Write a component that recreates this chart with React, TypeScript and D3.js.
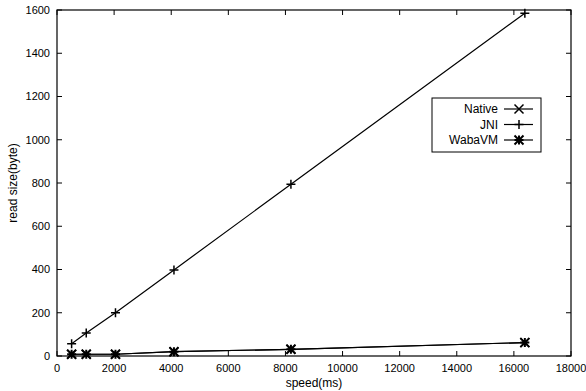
import * as d3 from 'd3'

const width = 586
const height = 391
const margin = { top: 10, right: 15, bottom: 35, left: 57 }
const innerWidth = width - margin.left - margin.right
const innerHeight = height - margin.top - margin.bottom

const sizes = [512, 1024, 2048, 4096, 8192, 16384]
// Native sits underneath the WabaVM marks in the picture
const nativeValues = [8, 8, 8, 20, 31, 62]
const jniValues = [57, 106, 200, 398, 794, 1585]
const wabaValues = [8, 8, 8, 20, 31, 62]
const seriesNames = ['Native', 'JNI', 'WabaVM']

const xTicks = d3.range(0, 18001, 2000)
const yTicks = d3.range(0, 1601, 200)

const font = 'Liberation Sans, Arial, Helvetica, sans-serif'

const Marker = ({ kind, x, y }: { kind: string; x: number; y: number }) => {
  const s = 4.5
  const plus = `M${x - s},${y}H${x + s}M${x},${y - s}V${y + s}`
  const cross = `M${x - s},${y - s}L${x + s},${y + s}M${x - s},${y + s}L${x + s},${y - s}`
  let d = plus
  if (kind === 'Native') d = cross
  if (kind === 'WabaVM') d = plus + cross
  const sw = kind === 'WabaVM' ? 2 : 1.5
  return <path d={d} stroke="#000" strokeWidth={sw} fill="none" />
}

const App = () => {
  const x = d3.scaleLinear().domain([0, 18000]).range([0, innerWidth])
  const y = d3.scaleLinear().domain([0, 1600]).range([innerHeight, 0])

  const series = [
    { name: 'Native', values: nativeValues },
    { name: 'JNI', values: jniValues },
    { name: 'WabaVM', values: wabaValues },
  ]

  const line = d3
    .line<number>()
    .x((_, i) => x(sizes[i]))
    .y((d) => y(d))

  const tick = 5
  const legendX = 432 - margin.left
  const legendY = 98 - margin.top

  return (
    <div>
      <svg width={width} height={height} style={{ display: 'block', position: 'absolute', left: 0, top: 0 }}>
        <rect width={width} height={height} fill="#fff" />
        <g transform={`translate(${margin.left},${margin.top})`} fontFamily={font} fontSize={11} fill="#000">
          {xTicks.map((t) => (
            <g key={'x' + t}>
              <line x1={x(t)} x2={x(t)} y1={innerHeight} y2={innerHeight - tick} stroke="#000" />
              <line x1={x(t)} x2={x(t)} y1={0} y2={tick} stroke="#000" />
              <text x={x(t)} y={innerHeight + 16} textAnchor="middle">
                {t}
              </text>
            </g>
          ))}
          {yTicks.map((t) => (
            <g key={'y' + t}>
              <line x1={0} x2={tick} y1={y(t)} y2={y(t)} stroke="#000" />
              <line x1={innerWidth} x2={innerWidth - tick} y1={y(t)} y2={y(t)} stroke="#000" />
              <text x={-7} y={y(t)} dy="0.35em" textAnchor="end">
                {t}
              </text>
            </g>
          ))}
          <rect width={innerWidth} height={innerHeight} fill="none" stroke="#000" strokeWidth={1.2} />

          {series.map((s) => (
            <g key={s.name}>
              <path d={line(s.values) || ''} fill="none" stroke="#000" strokeWidth={1.2} />
              {s.values.map((v, i) => (
                <Marker key={i} kind={s.name} x={x(sizes[i])} y={y(v)} />
              ))}
            </g>
          ))}

          <g transform={`translate(${legendX},${legendY})`}>
            <rect width={109} height={54} fill="#fff" stroke="#000" strokeWidth={1} />
            {seriesNames.map((name, i) => (
              <g key={name} transform={`translate(0,${11 + i * 15.5})`}>
                <text x={66} y={0} dy="0.35em" textAnchor="end" fontSize={12}>
                  {name}
                </text>
                <line x1={72} x2={101} y1={0} y2={0} stroke="#000" strokeWidth={1.2} />
                <Marker kind={name} x={87} y={0} />
              </g>
            ))}
          </g>

          <text x={innerWidth / 2} y={innerHeight + 31} textAnchor="middle" fontSize={12}>
            speed(ms)
          </text>
          <text
            transform={`translate(${-40},${innerHeight / 2}) rotate(-90)`}
            textAnchor="middle"
            fontSize={12}
          >
            read size(byte)
          </text>
        </g>
      </svg>
    </div>
  )
}

export default App
